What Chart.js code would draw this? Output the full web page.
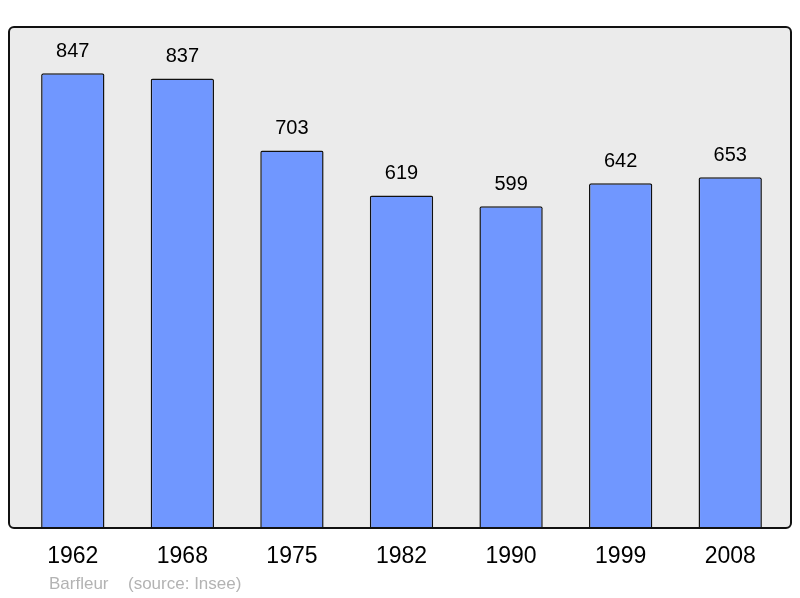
<!DOCTYPE html>
<html>
<head>
<meta charset="utf-8">
<script src="https://cdn.jsdelivr.net/npm/chart.js@4"></script>
<style>
  html, body { margin: 0; padding: 0; background: #ffffff; }
  #wrap { width: 800px; height: 598px; position: relative; }
</style>
</head>
<body>
<div id="wrap"><canvas id="popChart" width="800" height="598"></canvas></div>
<script>
// data //
const years = ['1962', '1968', '1975', '1982', '1990', '1999', '2008'];
const population = [847, 837, 703, 619, 599, 642, 653];
const yMax = 933;
const footerName = 'Barfleur';
const footerSource = '(source: Insee)';

// frame + labels drawn around the bars
const framePlugin = {
  id: 'frame',
  beforeDraw(chart) {
    const ctx = chart.ctx;
    ctx.save();
    ctx.beginPath();
    ctx.roundRect(9, 27, 782, 501, 5);
    ctx.fillStyle = '#ebebeb';
    ctx.fill();
    ctx.restore();
  },
  afterDraw(chart) {
    const ctx = chart.ctx;
    const x = chart.scales.x;
    const y = chart.scales.y;
    ctx.save();
    ctx.beginPath();
    ctx.roundRect(9, 27, 782, 501, 5);
    ctx.lineWidth = 2;
    ctx.strokeStyle = '#111111';
    ctx.stroke();

    ctx.fillStyle = '#000000';
    ctx.textAlign = 'center';
    ctx.textBaseline = 'middle';
    ctx.font = '20px "Liberation Sans", Arial, sans-serif';
    population.forEach((v, i) => {
      ctx.fillText(String(v), x.getPixelForValue(i), y.getPixelForValue(v) - 22);
    });
    ctx.font = '23px "Liberation Sans", Arial, sans-serif';
    years.forEach((yr, i) => {
      ctx.fillText(yr, x.getPixelForValue(i), 557);
    });

    ctx.fillStyle = '#b3b3b3';
    ctx.textAlign = 'left';
    ctx.font = '17px "Liberation Sans", Arial, sans-serif';
    ctx.fillText(footerName, 49, 584);
    ctx.fillText(footerSource, 128, 584);
    ctx.restore();
  }
};

const popChart = new Chart(document.getElementById('popChart'), {
  type: 'bar',
  data: {
    labels: years,
    datasets: [{
      data: population,
      backgroundColor: '#7097ff',
      borderColor: '#111111',
      borderWidth: 1.5,
      borderSkipped: 'bottom',
      borderRadius: { topLeft: 2, topRight: 2 },
      categoryPercentage: 1,
      barPercentage: 0.578
    }]
  },
  options: {
    responsive: false,
    animation: false,
    layout: { padding: { left: 18, right: 15, top: 27, bottom: 70 } },
    plugins: {
      legend: { display: false },
      tooltip: { enabled: false }
    },
    scales: {
      x: { display: false },
      y: { display: false, min: 0, max: yMax }
    }
  },
  plugins: [framePlugin]
});
</script>
</body>
</html>
